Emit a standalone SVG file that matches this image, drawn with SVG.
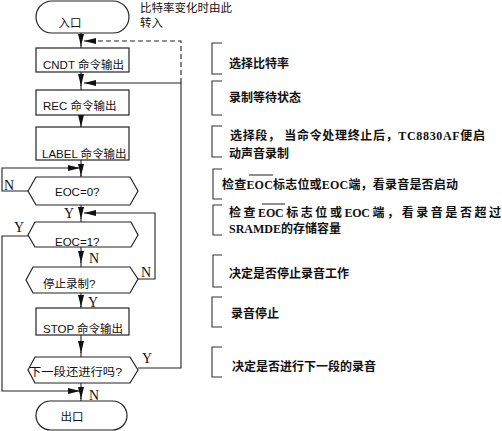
<svg xmlns="http://www.w3.org/2000/svg" width="502" height="431" viewBox="0 0 502 431">
<style>
.s{fill:#fff;stroke:#222;stroke-width:1.2}
.c{fill:none;stroke:#222;stroke-width:1.1}
.d{fill:none;stroke:#222;stroke-width:1.1;stroke-dasharray:5,3}
.t{font-family:"Liberation Sans","Noto Sans CJK SC",sans-serif;font-size:11.5px;fill:#111}
.l{font-family:"Liberation Serif","Noto Sans CJK SC",serif;font-size:14px;fill:#111}
.r{font-family:"Liberation Serif","Noto Sans CJK SC",serif;font-size:12px;font-weight:bold;fill:#111}
.b{fill:none;stroke:#333;stroke-width:1.1}
</style>
<defs>
<marker id="a" markerUnits="userSpaceOnUse" markerWidth="14" markerHeight="8" refX="12" refY="3" orient="auto">
<path d="M0,0 L12,3 L0,6 Z" fill="#111"/>
</marker>
</defs>
<g id="connectors">
<path class="c" d="M81,33 V46" marker-end="url(#a)"/><path class="c" d="M81,45 V48"/>
<path class="d" d="M181,83 V41 H84" marker-end="url(#a)"/>
<path class="c" d="M81,72 V86" marker-end="url(#a)"/><path class="c" d="M81,85 V90"/>
<path class="c" d="M138,368 H181 V83 H84" marker-end="url(#a)"/>
<path class="c" d="M81,115 V127" marker-end="url(#a)"/>
<path class="c" d="M81,160 V176" marker-end="url(#a)"/><path class="c" d="M81,175 V177"/>
<path class="c" d="M28,191 H2 V168 H80" marker-end="url(#a)"/>
<path class="c" d="M81,205 V219" marker-end="url(#a)"/><path class="c" d="M81,218 V222"/>
<path class="c" d="M138,279 H155 V213 H84" marker-end="url(#a)"/>
<path class="c" d="M28,236 H2 V391 H80" marker-end="url(#a)"/>
<path class="c" d="M81,247 V263" marker-end="url(#a)"/><path class="c" d="M81,262 V267"/>
<path class="c" d="M81,293 V307" marker-end="url(#a)"/><path class="c" d="M81,306 V308"/>
<path class="c" d="M81,335 V353" marker-end="url(#a)"/><path class="c" d="M81,352 V357"/>
<path class="c" d="M81,383 V399" marker-end="url(#a)"/><path class="c" d="M81,398 V401"/>
<text class="l" x="4" y="190">N</text>
<text class="l" x="64" y="218">Y</text>
<text class="l" x="14" y="232">Y</text>
<text class="l" x="89" y="263">N</text>
<text class="l" x="141" y="277">N</text>
<text class="l" x="88" y="307">Y</text>
<text class="l" x="142" y="363">Y</text>
<text class="l" x="89" y="400">N</text>
</g>
<g id="entry">
<rect class="s" x="36" y="1" width="93" height="32" rx="16"/>
<text class="t" x="70" y="27" text-anchor="middle">入口</text>
</g>
<g id="entry-note">
<text class="t" x="140" y="11.5">比特率变化时由此</text>
<text class="t" x="140" y="27">转入</text>
</g>
<g id="cndt">
<rect class="s" x="36" y="48" width="93" height="24"/>
<text class="t" x="43" y="69">CNDT 命令输出</text>
</g>
<g id="rec">
<rect class="s" x="36" y="90" width="93" height="25"/>
<text class="t" x="43" y="110">REC 命令输出</text>
</g>
<g id="label">
<rect class="s" x="36" y="127" width="93" height="33"/>
<text class="t" x="42" y="158">LABEL 命令输出</text>
</g>
<g id="eoc0">
<polygon class="s" points="28,191 36,177 130,177 138,191 130,205 36,205"/>
<text class="t" x="55" y="196">EOC=0?</text>
</g>
<g id="eoc1">
<polygon class="s" points="28,235 35,222 131,222 138,235 131,247 35,247"/>
<text class="t" x="55" y="246">EOC=1?</text>
</g>
<g id="stoprec">
<polygon class="s" points="26,280 33,267 130,267 138,279 130,293 33,293"/>
<text class="t" x="43" y="288">停止录制?</text>
</g>
<g id="stop">
<rect class="s" x="36" y="308" width="93" height="27"/>
<text class="t" x="43" y="333">STOP 命令输出</text>
</g>
<g id="next">
<polygon class="s" points="28,370 35,357 130,357 138,370 130,383 35,383"/>
<text class="t" x="29" y="376" textLength="93" lengthAdjust="spacingAndGlyphs">下一段还进行吗?</text>
</g>
<g id="exit">
<rect class="s" x="36" y="401" width="91" height="29" rx="14.5"/>
<text class="t" x="72" y="421" text-anchor="middle">出口</text>
</g>
<g id="notes">
<path class="b" d="M222,43 H212 V74 H222"/>
<text class="r" x="229" y="67.5">选择比特率</text>
<path class="b" d="M222,81 H212 V115 H222"/>
<text class="r" x="229" y="101.5">录制等待状态</text>
<path class="b" d="M222,126 H212 V157 H222"/>
<text class="r" x="230" y="139.5" textLength="255" lengthAdjust="spacing">选择段， 当命令处理终止后，TC8830AF便启</text>
<text class="r" x="229" y="157.5">动声音录制</text>
<path class="b" d="M222,169 H213 V199 H222"/>
<text class="r" x="222" y="188.5" textLength="236" lengthAdjust="spacing">检查EOC标志位或EOC端，看录音是否启动</text>
<line class="b" x1="249" y1="175" x2="273" y2="175"/>
<path class="b" d="M222,205 H213 V235 H222"/>
<text class="r" x="229" y="216.5" textLength="272" lengthAdjust="spacing">检 查 EOC 标 志 位 或 EOC 端 ， 看 录 音 是 否 超 过</text>
<line class="b" x1="262" y1="204" x2="285" y2="204"/>
<text class="r" x="229" y="232.5">SRAMDE的存储容量</text>
<path class="b" d="M222,255 H213 V287 H222"/>
<text class="r" x="229" y="277.5">决定是否停止录音工作</text>
<path class="b" d="M222,297 H212 V327 H222"/>
<text class="r" x="231" y="317.5">录音停止</text>
<path class="b" d="M222,347 H212 V377 H222"/>
<text class="r" x="232" y="370.5">决定是否进行下一段的录音</text>
</g>
</svg>
